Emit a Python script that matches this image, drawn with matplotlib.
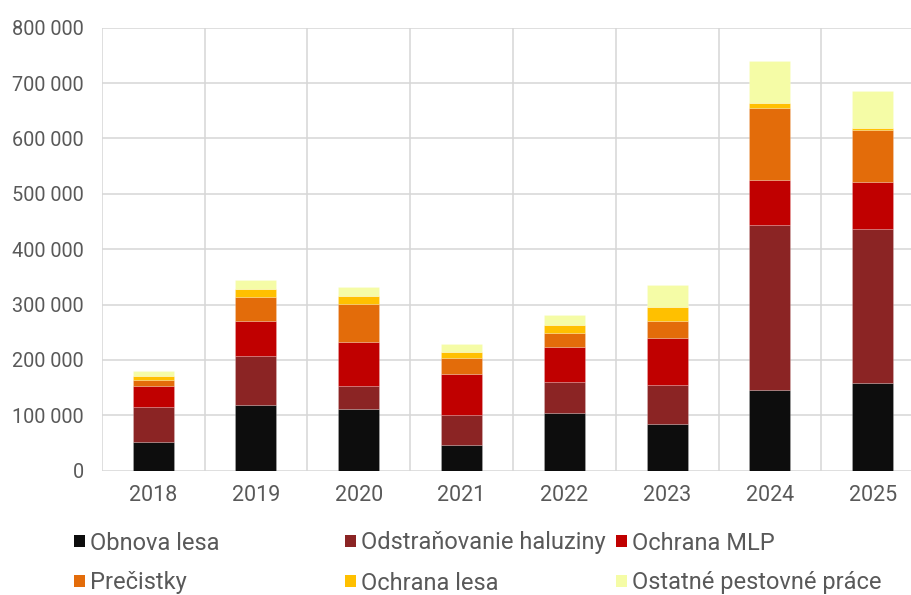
import matplotlib
matplotlib.use("Agg")
import matplotlib.pyplot as plt
from matplotlib.patches import Patch
from matplotlib.ticker import FuncFormatter, MultipleLocator
import numpy as np

years = ["2018", "2019", "2020", "2021", "2022", "2023", "2024", "2025"]
series_names = ["Obnova lesa", "Odstraňovanie haluziny", "Ochrana MLP",
                "Prečistky", "Ochrana lesa", "Ostatné pestovné práce"]
obnova_lesa = [52400, 118000, 112000, 47000, 104200, 83700, 145100, 158300]
odstranovanie_haluziny = [62000, 88500, 40300, 52900, 55900, 70400, 298000, 277600]
ochrana_mlp = [37900, 64400, 80700, 74700, 63900, 85500, 81900, 86100]
precistky = [12100, 42100, 68000, 29400, 25200, 31300, 130600, 93900]
ochrana_lesa = [6600, 15100, 15000, 10300, 14500, 24100, 9100, 3600]
ostatne_prace = [9600, 15700, 16300, 14500, 17500, 40300, 75200, 66800]
colors = ["#0d0d0d", "#8b2424", "#c00000", "#e36c0a", "#ffc000", "#f5fca6"]

data = [obnova_lesa, odstranovanie_haluziny, ochrana_mlp, precistky,
        ochrana_lesa, ostatne_prace]

plt.rcParams['font.family'] = ['Roboto', 'DejaVu Sans']
text_color = "#595959"
grid_color = "#d6d6d6"

W, H = 912, 595
fig = plt.figure(figsize=(W / 100, H / 100), dpi=100)
ax_left = 101.7 / W
ax_right = (101.7 + 8 * 102.8) / W
ax_top = 1 - 27.7 / H
ax_bottom = 1 - 470.7 / H
ax = fig.add_axes([ax_left, ax_bottom, ax_right - ax_left, ax_top - ax_bottom])

x = np.arange(len(years))
bottom = np.zeros(len(years))
for vals, col in zip(data, colors):
    v = np.array(vals, dtype=float)
    ax.bar(x, v, width=0.4, bottom=bottom, color=col,
           edgecolor=(1, 1, 1, 0.25), linewidth=0.5, zorder=3)
    bottom += v

ax.set_xlim(-0.5, len(years) - 0.5)
ax.set_ylim(0, 800000)
ax.yaxis.set_major_locator(MultipleLocator(100000))
ax.yaxis.set_major_formatter(FuncFormatter(lambda v, p: f"{int(v):,}".replace(",", " ")))
ax.set_xticks(x)
ax.set_xticklabels(years)
ax.set_xticks(np.arange(-0.5, len(years), 1.0), minor=True)
ax.grid(True, axis='y', which='major', color=grid_color, linewidth=1.1, zorder=0)
ax.grid(True, axis='x', which='minor', color=grid_color, linewidth=1.1, zorder=0)
ax.grid(False, axis='x', which='major')
for s in ax.spines.values():
    s.set_visible(False)
ax.tick_params(axis='both', which='both', length=0)
ax.tick_params(axis='y', labelsize=14.3, labelcolor=text_color, pad=13)
ax.tick_params(axis='x', labelsize=15.5, labelcolor=text_color, pad=10)

# Legend: three columns placed like the original
legend_pos = [(74, 543), (345, 543), (616, 543),
              (74, 583), (345, 583), (616, 583)]
for name, col, (lx, ly) in zip(series_names, colors, legend_pos):
    fig.legend(handles=[Patch(facecolor=col, edgecolor='none')], labels=[name],
               loc='center left', bbox_to_anchor=(lx / W, 1 - ly / H),
               frameon=False, borderpad=0, borderaxespad=0,
               handlelength=0.45, handleheight=0.45, handletextpad=0.21,
               fontsize=17, labelcolor=text_color)

fig.savefig("out.png", dpi=100)
